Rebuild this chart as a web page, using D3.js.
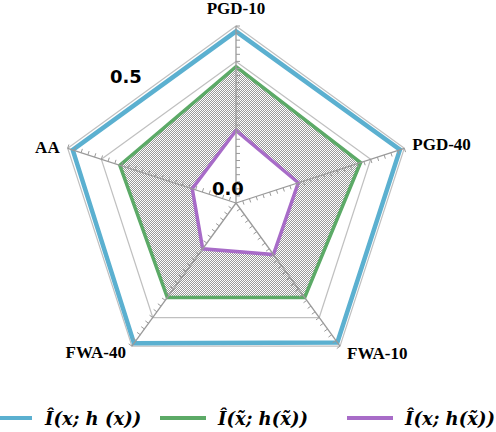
<!DOCTYPE html>
<html>
<head>
<meta charset="utf-8">
<style>
  body { margin: 0; background: white; }
  svg { display: block; background: white; }
  .axis-label { font-family: 'Liberation Serif', 'Times New Roman', serif; font-weight: bold; font-size: 17px; fill: #000; }
  .scale-label { font-family: 'DejaVu Sans', sans-serif; font-weight: bold; font-size: 18px; fill: #000; }
  .legend text { font-family: 'DejaVu Serif', serif; font-weight: bold; font-style: italic; font-size: 18px; fill: #000; }
</style>
</head>
<body>
<div id="chart"></div>
<script src="https://cdn.jsdelivr.net/npm/d3@7"></script>
<script>

// axes, clockwise from the top
var axes = ["PGD-10", "PGD-40", "FWA-10", "FWA-40", "AA"];

// one array per series, same order as axes
var seriesClean = [0.485, 0.487, 0.487, 0.49, 0.485];
var seriesAdv   = [0.385, 0.37, 0.33, 0.33, 0.345];
var seriesMixed = [0.205, 0.185, 0.18, 0.16, 0.13];

var seriesNames = ["Î(x; h (x))", "Î(x\u0303; h(x\u0303))", "Î(x; h(x\u0303))"];
var seriesColors = ["#5bb0d0", "#5caa67", "#a86cc8"];

var gridValues = [0.1, 0.2, 0.3, 0.4, 0.5];
var scaleLabels = ["0.0", "0.5"];

var width = 496, height = 432;
var cx = 236, cy = 203, R = 177;

var r = d3.scaleLinear().domain([0, 0.5]).range([0, R]);

var svg = d3.select("#chart").append("svg")
    .attr("width", width)
    .attr("height", height);

// fine hatch used for the middle series
var defs = svg.append("defs");
var pat = defs.append("pattern")
    .attr("id", "hatch")
    .attr("patternUnits", "userSpaceOnUse")
    .attr("width", 2).attr("height", 2);
pat.append("rect").attr("width", 2).attr("height", 2).attr("fill", "#fff");
pat.append("rect").attr("width", 1).attr("height", 1).attr("fill", "#9a9a9a");
pat.append("rect").attr("x", 1).attr("y", 1).attr("width", 1).attr("height", 1).attr("fill", "#9a9a9a");

var g = svg.append("g").attr("transform", "translate(" + cx + "," + cy + ")");

function angle(i) { return (-90 + 72 * i) * Math.PI / 180; }

var radial = d3.lineRadial()
    .angle(function(d, i) { return angle(i) + Math.PI / 2; })
    .radius(function(d) { return r(d); })
    .curve(d3.curveLinearClosed);

// grid polygons
g.selectAll(".grid")
  .data(gridValues)
  .enter().append("path")
    .attr("class", "grid")
    .attr("d", function(v) { return radial(axes.map(function() { return v; })); })
    .attr("fill", "none")
    .attr("stroke", "#c0c0c0")
    .attr("stroke-width", 1.2);

// series
g.append("path")
    .attr("d", radial(seriesClean))
    .attr("fill", "none")
    .attr("stroke", seriesColors[0])
    .attr("stroke-width", 4.5)
    .attr("stroke-linejoin", "miter");

g.append("path")
    .attr("d", radial(seriesAdv))
    .attr("fill", "url(#hatch)")
    .attr("stroke", seriesColors[1])
    .attr("stroke-width", 3.5)
    .attr("stroke-linejoin", "miter");

g.append("path")
    .attr("d", radial(seriesMixed))
    .attr("fill", "#fff")
    .attr("stroke", seriesColors[2])
    .attr("stroke-width", 3.5)
    .attr("stroke-linejoin", "miter");

// spokes with minor ticks
var minorTicks = d3.range(1, 26).map(function(k) { return k * 0.02; });

axes.forEach(function(name, i) {
  var a = angle(i), ux = Math.cos(a), uy = Math.sin(a);
  var px = -uy, py = ux; // tick side
  g.append("line")
      .attr("x1", 0).attr("y1", 0)
      .attr("x2", r(0.5) * ux).attr("y2", r(0.5) * uy)
      .attr("stroke", "#9a9a9a")
      .attr("stroke-width", 1.3);
  g.selectAll(".tick" + i)
    .data(minorTicks)
    .enter().append("line")
      .attr("x1", function(v) { return r(v) * ux; })
      .attr("y1", function(v) { return r(v) * uy; })
      .attr("x2", function(v) { return r(v) * ux + 4 * px; })
      .attr("y2", function(v) { return r(v) * uy + 4 * py; })
      .attr("stroke", "#9a9a9a")
      .attr("stroke-width", 1);
});

// axis names
var labelOffset = [
  {dx: 0, dy: -12, anchor: "middle"},
  {dx: 8, dy: 2, anchor: "start"},
  {dx: 7, dy: 13, anchor: "start"},
  {dx: -6, dy: 12, anchor: "end"},
  {dx: -8, dy: 5, anchor: "end"}
];
g.selectAll(".axis-label")
  .data(axes)
  .enter().append("text")
    .attr("class", "axis-label")
    .attr("x", function(d, i) { return r(0.5) * Math.cos(angle(i)) + labelOffset[i].dx; })
    .attr("y", function(d, i) { return r(0.5) * Math.sin(angle(i)) + labelOffset[i].dy; })
    .attr("text-anchor", function(d, i) { return labelOffset[i].anchor; })
    .text(function(d) { return d; });

// scale labels
g.append("text").attr("class", "scale-label")
    .attr("x", -24).attr("y", -8)
    .text(scaleLabels[0]);
g.append("text").attr("class", "scale-label")
    .attr("x", -126).attr("y", -r(0.5) * 0.68)
    .text(scaleLabels[1]);

// legend
var legendX = [0, 160, 347];
var legend = svg.append("g").attr("class", "legend");
seriesNames.forEach(function(name, i) {
  legend.append("line")
      .attr("x1", legendX[i]).attr("x2", legendX[i] + (i === 0 ? 32 : 46))
      .attr("y1", 418).attr("y2", 418)
      .attr("stroke", seriesColors[i])
      .attr("stroke-width", 4);
  legend.append("text")
      .attr("x", legendX[i] + (i === 0 ? 45 : 58))
      .attr("y", 425)
      .text(name);
});

</script>
</body>
</html>
